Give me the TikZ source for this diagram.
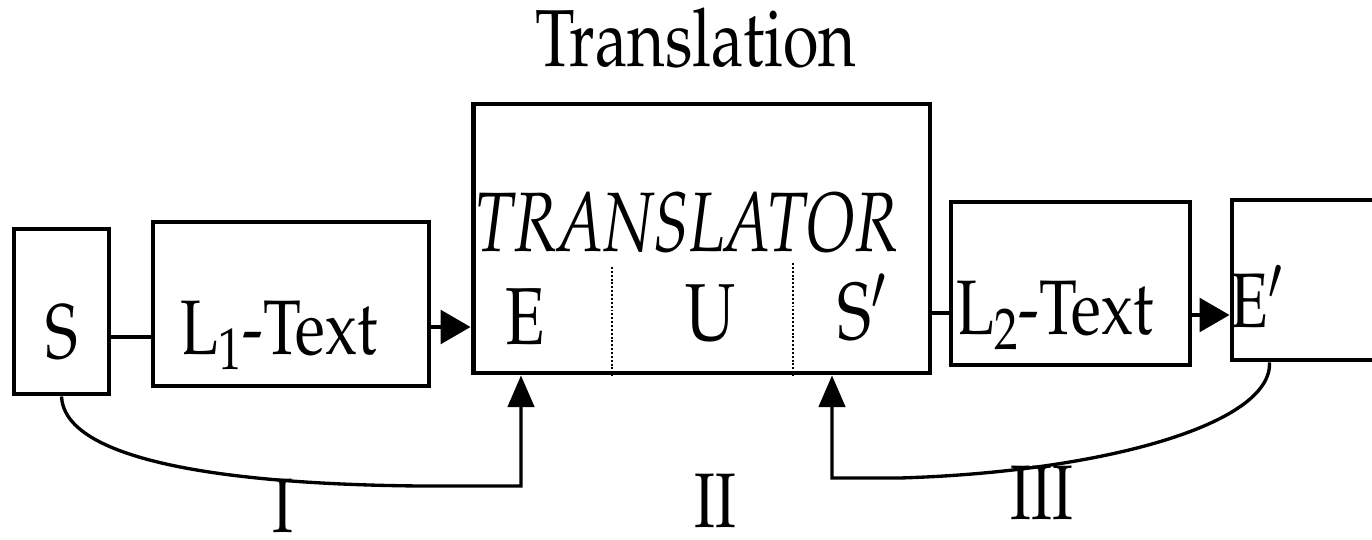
\documentclass[tikz,border=0pt]{standalone}
\usepackage[T1]{fontenc}
\usepackage{mathpazo}
\usetikzlibrary{arrows.meta,calc}
% narrow setting of the book face
\newcommand{\narrowtext}[2][0.8]{\scalebox{#1}[1]{#2}}
\begin{document}
\begin{tikzpicture}[x=0.02cm,y=-0.02cm,
  box/.style={draw,line width=2.8pt,inner sep=0pt},
  lbl/.style={inner sep=0pt,anchor=base,font=\fontsize{44}{50}\selectfont},
  link/.style={line width=2.8pt},
  arr/.style={line width=2.4pt,-{Triangle[length=17pt,width=19pt]}},
  loop/.style={line width=1.9pt,-{Triangle[length=18pt,width=15pt]}},
  sep/.style={line width=1.1pt,dash pattern=on 1.1pt off 1.1pt}]
\useasboundingbox (0,0) rectangle (1372,540);
\begin{scope}
\clip (0,0) rectangle (1372,540);
% boxes
\node[box,minimum width=1.9cm,minimum height=3.3cm] (S) at (61.5,311.5) {};
\node[box,minimum width=5.52cm,minimum height=3.28cm] (L1) at (291,304) {};
\node[box,minimum width=9.14cm,minimum height=5.38cm] (T) at (701.5,238.5) {};
\node[box,minimum width=4.78cm,minimum height=3.26cm] (L2) at (1070.5,283.5) {};
\node[box,minimum width=3.0cm,minimum height=3.2cm] (E2) at (1307,280) {};
\end{scope}
% texts
\node[lbl,font=\fontsize{46}{52}\selectfont] (title) at (696,67) {\narrowtext{Translation}};
\node[lbl] (tS) at (62,358) {\narrowtext{S}};
\node[lbl] (tL1) at (279,355) {\narrowtext{L\textsubscript{1}-Text}};
\node[lbl,font=\fontsize{48}{54}\selectfont\itshape] (tT) at (687,252) {\narrowtext[0.76]{TRANSLATOR}};
\node[lbl,font=\fontsize{46}{52}\selectfont] (tE) at (525,345) {\narrowtext{E}};
\node[lbl,font=\fontsize{46}{52}\selectfont] (tU) at (711,340) {\narrowtext{U}};
\node[lbl,font=\fontsize{46}{52}\selectfont] (tS2) at (862,339) {\narrowtext{S$'$}};
\node[lbl] (tL2) at (1055,335) {\narrowtext{L\textsubscript{2}-Text}};
\node[lbl] (tE2) at (1257,328) {\narrowtext{E$'$}};
\node[lbl] (n1) at (283,532) {\narrowtext{I}};
\node[lbl] (n2) at (715,527) {\narrowtext{II}};
\node[lbl] (n3) at (1042,519) {\narrowtext{III}};
% dotted separators inside the translator
\coordinate (d1) at (612,267);
\coordinate (d2) at (793,263);
\draw[sep] (d1) -- (d1 |- T.south);
\draw[sep] (d2) -- (d2 |- T.south);
% connectors
\draw[link] (S.east |- 0,337) -- (L1.west |- 0,337);
\draw[arr] (L1.east |- 0,327) -- (T.west |- 0,327);
\draw[link] (T.east |- 0,313) -- (L2.west |- 0,313);
\draw[arr] (L2.east |- 0,315) -- (E2.west |- 0,315);
% feedback loops
\coordinate (c1) at (521,486);
\coordinate (c3) at (832,478);
\coordinate (e2foot) at ($(E2.south west)+(40,0)$);
\draw[loop] (S.south) .. controls (64,455) and (200,484) .. (420,486) -- (c1) -- (c1 |- T.south);
\draw[loop] (e2foot) .. controls (1272,425) and (1100,472) .. (900,478) -- (c3) -- (c3 |- T.south);
\end{tikzpicture}
\end{document}
